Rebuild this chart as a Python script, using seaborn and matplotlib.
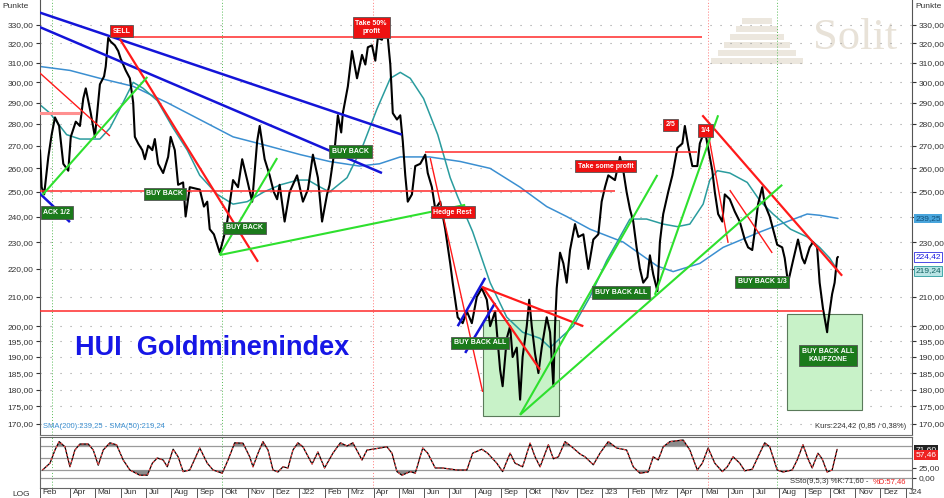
import matplotlib
matplotlib.use("Agg")
import matplotlib.pyplot as plt
import matplotlib.dates as mdates
import matplotlib.transforms as mtransforms
from matplotlib.patches import Rectangle
from matplotlib.ticker import FixedLocator, FuncFormatter, NullLocator
import numpy as np
import pandas as pd
import seaborn as sns

# ---- HUI closes ----
price_dates = [
    "2021-02-24", "2021-02-26", "2021-03-01", "2021-03-06", "2021-03-10", "2021-03-14", "2021-03-19",
    "2021-03-24", "2021-03-30", "2021-04-02", "2021-04-08", "2021-04-13", "2021-04-17", "2021-04-20",
    "2021-04-26", "2021-05-01", "2021-05-07", "2021-05-12", "2021-05-14", "2021-05-17", "2021-05-20",
    "2021-05-25", "2021-05-29", "2021-06-01", "2021-06-07", "2021-06-12", "2021-06-16", "2021-06-18",
    "2021-06-22", "2021-06-27", "2021-06-30", "2021-07-04", "2021-07-09", "2021-07-12", "2021-07-16",
    "2021-07-22", "2021-07-28", "2021-07-31", "2021-08-05", "2021-08-09", "2021-08-15", "2021-08-18",
    "2021-08-23", "2021-09-04", "2021-09-09", "2021-09-13", "2021-09-16", "2021-09-21", "2021-09-26",
    "2021-09-28", "2021-10-03", "2021-10-07", "2021-10-14", "2021-10-20", "2021-10-25", "2021-10-31",
    "2021-11-06", "2021-11-12", "2021-11-15", "2021-11-21", "2021-11-27", "2021-12-02", "2021-12-06",
    "2021-12-09", "2021-12-15", "2021-12-21", "2021-12-30", "2022-01-06", "2022-01-12", "2022-01-18",
    "2022-01-24", "2022-01-29", "2022-02-04", "2022-02-07", "2022-02-13", "2022-02-17", "2022-02-21",
    "2022-02-23", "2022-03-01", "2022-03-06", "2022-03-12", "2022-03-18", "2022-03-22", "2022-03-25",
    "2022-03-30", "2022-04-03", "2022-04-06", "2022-04-11", "2022-04-15", "2022-04-18", "2022-04-21",
    "2022-04-24", "2022-04-29", "2022-05-03", "2022-05-06", "2022-05-09", "2022-05-12", "2022-05-17",
    "2022-05-21", "2022-05-27", "2022-06-02", "2022-06-05", "2022-06-10", "2022-06-14", "2022-06-20",
    "2022-06-26", "2022-07-02", "2022-07-05", "2022-07-11", "2022-07-17", "2022-07-22", "2022-07-28",
    "2022-08-03", "2022-08-09", "2022-08-15", "2022-08-19", "2022-08-25", "2022-08-31", "2022-09-03",
    "2022-09-08", "2022-09-12", "2022-09-15", "2022-09-20", "2022-09-24", "2022-09-27", "2022-10-02",
    "2022-10-05", "2022-10-08", "2022-10-12", "2022-10-16", "2022-10-20", "2022-10-26", "2022-10-30",
    "2022-11-03", "2022-11-05", "2022-11-07", "2022-11-11", "2022-11-15", "2022-11-19", "2022-11-23",
    "2022-11-29", "2022-12-03", "2022-12-09", "2022-12-15", "2022-12-21", "2022-12-27", "2022-12-31",
    "2023-01-04", "2023-01-08", "2023-01-16", "2023-01-22", "2023-01-26", "2023-01-30", "2023-02-03",
    "2023-02-07", "2023-02-11", "2023-02-15", "2023-02-19", "2023-02-24", "2023-02-27", "2023-03-03",
    "2023-03-08", "2023-03-11", "2023-03-15", "2023-03-21", "2023-03-26", "2023-04-01", "2023-04-07",
    "2023-04-10", "2023-04-14", "2023-04-19", "2023-04-25", "2023-04-28", "2023-05-04", "2023-05-08",
    "2023-05-13", "2023-05-16", "2023-05-20", "2023-05-25", "2023-05-28", "2023-06-03", "2023-06-09",
    "2023-06-15", "2023-06-21", "2023-06-25", "2023-06-30", "2023-07-03", "2023-07-07", "2023-07-12",
    "2023-07-15", "2023-07-21", "2023-07-25", "2023-07-30", "2023-08-05", "2023-08-08", "2023-08-12",
    "2023-08-18", "2023-08-24", "2023-08-29", "2023-09-01", "2023-09-07", "2023-09-11", "2023-09-16",
    "2023-09-19", "2023-09-23", "2023-09-28", "2023-09-29", "2023-10-04", "2023-10-07", "2023-10-10",
    "2023-10-11",
]
price_vals = [
    268, 252, 249, 265, 275, 283, 279,
    262, 259, 274, 281, 279, 292, 297,
    285, 274, 299, 303, 308, 323, 321,
    319, 316, 312, 306, 302, 290, 274,
    271, 268, 264, 270, 268, 273, 262,
    258, 265, 274, 268, 253, 254, 240,
    252, 251, 244, 246, 235, 233, 228,
    226, 232, 238, 255, 252, 264, 255,
    246, 272, 279, 264, 257, 250, 247,
    253, 238, 250, 257, 246, 251, 266,
    256, 238, 249, 253, 268, 284, 276,
    285, 298, 316, 302, 314, 309, 318,
    319, 311, 323, 322, 330, 323, 309,
    285, 282, 284, 272, 257, 246, 249,
    261, 262, 266, 258, 252, 243, 246,
    235, 222, 215, 203, 201, 205, 201,
    210, 213, 209, 200, 205, 186, 181,
    196, 200, 190, 193, 177, 190, 200,
    209, 200, 191, 185, 193, 203, 198,
    181, 200, 213, 226, 222, 215, 227,
    237, 232, 233, 220, 231, 233, 246,
    252, 257, 255, 265, 259, 250, 243,
    238, 228, 220, 215, 217, 225, 218,
    212, 230, 241, 250, 257, 269, 271,
    279, 270, 261, 261, 271, 277, 269,
    259, 250, 241, 238, 249, 247, 242,
    238, 231, 228, 227, 234, 245, 252,
    245, 240, 235, 229, 228, 224, 215,
    223, 231, 224, 222, 228, 230, 228,
    215, 206, 198, 201, 211, 215, 224,
    224.42,
]

sma200_dates = [
    "2021-02-24", "2021-04-01", "2021-05-07", "2021-06-16", "2021-07-27", "2021-09-04", "2021-10-14",
    "2021-11-24", "2022-01-03", "2022-02-07", "2022-03-15", "2022-04-08", "2022-05-03", "2022-06-07",
    "2022-07-14", "2022-08-19", "2022-09-24", "2022-10-26", "2022-11-19", "2022-12-17", "2023-01-26",
    "2023-03-08", "2023-03-27", "2023-04-28", "2023-05-26", "2023-07-10", "2023-08-03", "2023-09-04",
    "2023-09-19", "2023-10-11",
]
sma200_vals = [
    308, 306, 302, 298, 290, 282, 274,
    270, 266, 263, 261, 262, 265, 265,
    263, 260, 252, 244, 240, 235, 230,
    221, 219, 222, 228, 234, 237, 241,
    240.5, 239.25,
]

sma50_dates = [
    "2021-02-24", "2021-03-08", "2021-03-28", "2021-04-13", "2021-05-07", "2021-05-19", "2021-05-31",
    "2021-06-16", "2021-06-28", "2021-07-15", "2021-08-03", "2021-08-20", "2021-09-04", "2021-09-25",
    "2021-10-14", "2021-10-31", "2021-11-20", "2021-12-10", "2021-12-31", "2022-01-12", "2022-01-27",
    "2022-02-07", "2022-02-28", "2022-03-19", "2022-04-05", "2022-04-21", "2022-05-03", "2022-05-15",
    "2022-05-31", "2022-06-17", "2022-07-02", "2022-07-11", "2022-07-29", "2022-08-19", "2022-09-08",
    "2022-09-27", "2022-10-18", "2022-10-30", "2022-11-11", "2022-11-27", "2022-12-17", "2023-01-06",
    "2023-02-03", "2023-02-23", "2023-03-15", "2023-04-01", "2023-04-16", "2023-05-02", "2023-05-10",
    "2023-05-19", "2023-06-03", "2023-06-24", "2023-07-10", "2023-07-25", "2023-08-15", "2023-09-04",
    "2023-09-19", "2023-10-01", "2023-10-11",
]
sma50_vals = [
    289, 285, 275, 273, 273, 278, 287,
    300, 297, 291, 278, 268, 257, 249,
    245, 246, 250, 253, 255, 255, 252,
    250, 256, 270, 287, 302, 305, 302,
    292, 275, 256, 248, 234, 215, 203,
    198, 196, 193, 196, 200, 210, 223,
    239, 239, 237, 236, 237, 245, 255,
    259, 258, 254, 246, 241, 235, 232,
    228, 224, 219.24,
]

# ---- slow stochastic %K ----
stoch_dates = [
    "2021-02-27", "2021-03-08", "2021-03-14", "2021-03-19", "2021-03-26", "2021-04-01", "2021-04-07",
    "2021-04-13", "2021-04-23", "2021-04-29", "2021-05-05", "2021-05-11", "2021-05-19", "2021-05-27",
    "2021-06-04", "2021-06-12", "2021-06-24", "2021-07-03", "2021-07-09", "2021-07-15", "2021-07-22",
    "2021-07-27", "2021-08-03", "2021-08-09", "2021-08-15", "2021-08-23", "2021-09-04", "2021-09-13",
    "2021-09-20", "2021-10-01", "2021-10-08", "2021-10-16", "2021-10-26", "2021-11-03", "2021-11-07",
    "2021-11-13", "2021-11-19", "2021-11-25", "2021-12-01", "2021-12-07", "2021-12-13", "2021-12-19",
    "2021-12-25", "2021-12-31", "2022-01-06", "2022-01-17", "2022-01-24", "2022-02-01", "2022-02-11",
    "2022-02-20", "2022-02-28", "2022-03-07", "2022-03-18", "2022-03-24", "2022-03-31", "2022-04-17",
    "2022-04-23", "2022-04-29", "2022-05-05", "2022-05-15", "2022-05-21", "2022-05-30", "2022-06-05",
    "2022-06-14", "2022-06-23", "2022-07-10", "2022-07-22", "2022-07-29", "2022-08-09", "2022-08-16",
    "2022-08-27", "2022-09-03", "2022-09-12", "2022-09-18", "2022-09-27", "2022-10-06", "2022-10-12",
    "2022-10-18", "2022-10-28", "2022-11-03", "2022-11-09", "2022-11-17", "2022-11-25", "2022-12-05",
    "2022-12-11", "2022-12-21", "2022-12-29", "2023-01-08", "2023-01-18", "2023-01-30", "2023-02-07",
    "2023-02-15", "2023-02-25", "2023-03-03", "2023-03-09", "2023-03-15", "2023-03-23", "2023-04-08",
    "2023-04-16", "2023-04-25", "2023-05-01", "2023-05-08", "2023-05-16", "2023-05-25", "2023-05-31",
    "2023-06-07", "2023-06-15", "2023-06-21", "2023-06-30", "2023-07-09", "2023-07-15", "2023-07-21",
    "2023-07-30", "2023-08-06", "2023-08-17", "2023-08-23", "2023-08-30", "2023-09-05", "2023-09-10",
    "2023-09-17", "2023-09-22", "2023-09-28", "2023-10-04", "2023-10-10",
]
stoch_k = [
    20, 37, 70, 91, 78, 28, 70,
    85, 85, 70, 32, 70, 88, 83,
    45, 20, 7, 7, 37, 50, 45,
    28, 72, 53, 16, 20, 75, 37,
    20, 12, 45, 88, 87, 53, 28,
    62, 91, 70, 20, 15, 28, 25,
    70, 88, 78, 35, 65, 25, 62,
    88, 80, 88, 45, 70, 72, 78,
    62, 16, 7, 16, 12, 75, 62,
    25, 25, 20, 20, 62, 72, 62,
    37, 16, 62, 37, 28, 87, 53,
    28, 83, 48, 53, 91, 78, 60,
    53, 33, 62, 91, 75, 70, 28,
    12, 15, 53, 45, 78, 91, 95,
    70, 20, 37, 75, 37, 16, 28,
    53, 37, 18, 22, 62, 88, 78,
    20, 15, 20, 45, 83, 48, 25,
    62, 48, 15, 20, 71.6,
]

y_ticks = [170, 175, 180, 185, 190, 195, 200, 210, 220, 230, 240, 250,
           260, 270, 280, 290, 300, 310, 320, 330]
month_names = ["J", "Feb", "Mrz", "Apr", "Mai", "Jun", "Jul", "Aug", "Sep", "Okt", "Nov", "Dez"]

# trend lines: (start date, start price, end date, end price)
blue_lines = [
    ("2021-02-23", 337, "2022-05-05", 275),
    ("2021-02-23", 329, "2022-04-11", 258),
    ("2021-02-23", 249.6, "2021-04-01", 237.8),
    ("2022-07-11", 200, "2022-08-13", 216.7),
    ("2022-07-20", 191.3, "2022-08-25", 207.9),
]
red_levels = [
    ("2021-05-19", 323.5, "2023-05-01", 323.5),
    ("2021-02-23", 250.5, "2023-01-16", 250.5),
    ("2022-06-02", 267.0, "2023-04-25", 267.0),
    ("2021-02-23", 205.2, "2023-09-23", 205.2),
]
pink_levels = [("2021-02-23", 285, "2021-04-13", 285)]
red_thick = [
    ("2021-05-31", 322.4, "2021-11-13", 222.6),
    ("2022-08-09", 213.5, "2022-12-09", 200.0),
    ("2022-08-10", 213.5, "2022-10-18", 186.0),
    ("2023-05-01", 284.0, "2023-10-16", 217.5),
]
red_thin = [
    ("2021-02-23", 305, "2021-05-19", 274.4),
    ("2022-06-08", 264.5, "2022-08-10", 179.3),
    ("2023-05-08", 275.8, "2023-06-01", 229.7),
    ("2023-06-03", 250.8, "2023-07-24", 225.9),
]
green_lines = [
    ("2021-02-27", 248.8, "2021-07-03", 302.7),
    ("2021-09-28", 225.1, "2021-12-06", 264.5),
    ("2021-09-28", 225.1, "2022-07-20", 244.7),
    ("2022-09-24", 172.6, "2023-03-08", 257.2),
    ("2022-09-24", 172.6, "2023-08-05", 253.0),
    ("2023-03-05", 210.7, "2023-05-20", 284.0),
]
zones = [
    ("2022-08-10", "2022-11-10", 172.3, 202.1),
    ("2023-08-11", "2023-11-09", 174.0, 204.1),
]
red_tags = [
    ("SELL", "2021-06-02", 326.7),
    ("Take 50%\nprofit", "2022-03-29", 328.6),
    ("Hedge Rest", "2022-07-05", 241.8),
    ("Take some profit", "2023-01-05", 261.0),
    ("2/5", "2023-03-24", 279.5),
    ("1/4", "2023-05-05", 277.0),
]
green_tags = [
    ("BUY BACK", "2021-07-24", 249.2),
    ("BUY BACK", "2021-10-28", 235.5),
    ("BUY BACK", "2022-03-04", 267.4),
    ("BUY BACK ALL", "2022-08-07", 194.5),
    ("BUY BACK ALL", "2023-01-23", 211.5),
    ("BUY BACK 1/3", "2023-07-12", 215.3),
    ("BUY BACK ALL\nKAUFZONE", "2023-09-29", 190.5),
]
# tag cut off by the left border, only its end is visible
edge_tag = ("ACK 1/2", 241.6)
green_marks = ["2021-03-10", "2021-10-01", "2023-07-30"]
red_marks = ["2022-03-31", "2023-05-08"]


def dn(s):
    return mdates.date2num(pd.Timestamp(s))


def de(v):
    return f"{v:.2f}".replace(".", ",")


sns.set_style("white")
plt.rcParams["font.family"] = ["Liberation Sans", "DejaVu Sans"]

fig = plt.figure(figsize=(9.44, 4.98), dpi=100)
ax = fig.add_axes([40 / 944, 1 - 435 / 498, 872 / 944, 435 / 498])
ax2 = fig.add_axes([40 / 944, 1 - 488 / 498, 872 / 944, 51 / 498], sharex=ax)

price = pd.DataFrame({"date": pd.to_datetime(price_dates), "close": price_vals})
sma200 = pd.DataFrame({"date": pd.to_datetime(sma200_dates), "v": sma200_vals})
sma50 = pd.DataFrame({"date": pd.to_datetime(sma50_dates), "v": sma50_vals})
stoch = pd.DataFrame({"date": pd.to_datetime(stoch_dates), "k": stoch_k})

ax.set_yscale("log")

# watermark
for i, hw in enumerate([15, 21, 27, 33, 39, 46]):
    y0 = 18 + i * 8
    ax.add_patch(Rectangle(((757 - hw - 40) / 872, (435 - y0 - 6) / 435), 2 * hw / 872, 6 / 435,
                           transform=ax.transAxes, color="#ece7de", lw=0, zorder=0.5))
ax.text((813 - 40) / 872, (435 - 38) / 435, "Solit", transform=ax.transAxes, fontsize=32,
        family="Liberation Serif", color="#e8e2d8", va="center", zorder=0.5)

for d0, d1, lo, hi in zones:
    x0, x1 = dn(d0), dn(d1)
    ax.fill([x0, x1, x1, x0], [lo, lo, hi, hi], facecolor="#c8f2c8", edgecolor="#5a7a5a",
            lw=0.8, zorder=1)

for d in green_marks:
    for a in (ax, ax2):
        a.axvline(dn(d), color="#55bb55", lw=0.7, ls=(0, (1, 2)), zorder=1)
for d in red_marks:
    for a in (ax, ax2):
        a.axvline(dn(d), color="#ff7777", lw=0.7, ls=(0, (1, 2)), zorder=1)


def draw(lines, color, lw):
    for d0, p0, d1, p1 in lines:
        ax.plot([dn(d0), dn(d1)], [p0, p1], color=color, lw=lw, solid_capstyle="butt", zorder=4)


draw(pink_levels, "#ff9090", 2.2)
draw(red_levels, "#ff2a2a", 1.1)

sns.lineplot(data=sma200, x="date", y="v", ax=ax, color="#3b8fd1", lw=1.1, zorder=2)
sns.lineplot(data=sma50, x="date", y="v", ax=ax, color="#2a9c9e", lw=1.1, zorder=2)
sns.lineplot(data=price, x="date", y="close", ax=ax, color="black", lw=1.5, zorder=3)

draw(blue_lines, "#1414d8", 1.8)
draw(red_thick, "#ff1a1a", 1.6)
draw(red_thin, "#ff1a1a", 1.0)
draw(green_lines, "#2ee02e", 1.5)

box_kw = dict(fontsize=5, color="white", weight="bold", linespacing=1.15, zorder=6)


def tag(text, d, p, fc):
    ax.text(dn(d), p, text, ha="center", va="center",
            bbox=dict(boxstyle="square,pad=0.4", fc=fc, ec="#555555", lw=0.6), **box_kw)


for text, d, p in red_tags:
    tag(text, d, p, "#ee1111")
for text, d, p in green_tags:
    tag(text, d, p, "#1b7a1b")
ax.text(0.004, edge_tag[1], edge_tag[0], transform=ax.get_yaxis_transform(), ha="left",
        va="center", bbox=dict(boxstyle="square,pad=0.4", fc="#1b7a1b", ec="#555555", lw=0.6),
        **box_kw)

ax.text(0.04, 0.2, "HUI  Goldminenindex", transform=ax.transAxes, fontsize=19.5,
        weight="bold", color="#1616e6", va="center", zorder=7)

ax.set_ylim(166.9, 344)
ax.set_xlim(dn("2021-02-24"), dn("2024-01-08"))
ax.yaxis.set_major_locator(FixedLocator(y_ticks))
ax.yaxis.set_minor_locator(NullLocator())
ax.yaxis.set_major_formatter(FuncFormatter(lambda v, _: de(v)))
ax.grid(axis="y", ls=(0, (1, 8)), color="#9a9a9a", lw=0.8)
ax.grid(axis="x", visible=False)
ax.tick_params(axis="y", which="both", labelsize=6, colors="#333333", length=3,
               left=True, right=True, labelleft=True, labelright=True, pad=1.5)
ax.tick_params(axis="x", bottom=False, labelbottom=False)
ax.set_xlabel("")
ax.set_ylabel("")
for s in ("left", "right"):
    ax.spines[s].set_color("#555555")
ax.spines["top"].set_visible(False)
ax.spines["bottom"].set_color("#777777")

# the value boxes on the right cover the 240 and 220 labels
for t, v in zip(ax.yaxis.get_major_ticks(), y_ticks):
    if v in (220, 240):
        t.label2.set_visible(False)

ytr = ax.get_yaxis_transform()
ax.text(1.004, 239.25, "239,25", transform=ytr, fontsize=6, va="center", color="#10507a",
        bbox=dict(boxstyle="square,pad=0.15", fc="#49a5dc", ec="none"))
ax.text(1.004, 224.42, "224,42", transform=ytr, fontsize=6, va="center", color="#1a1ae0",
        bbox=dict(boxstyle="square,pad=0.15", fc="white", ec="#3030e0", lw=0.6))
ax.text(1.004, 219.24, "219,24", transform=ytr, fontsize=6, va="center", color="#0f5f60",
        bbox=dict(boxstyle="square,pad=0.15", fc="#b8e4e4", ec="#2a9c9e", lw=0.6))

ax.text(0.003, 0.012, "SMA(200):239,25 - SMA(50):219,24", transform=ax.transAxes,
        fontsize=5.5, color="#3b8fd1", va="bottom")
ax.text(0.993, 0.012, "Kurs:224,42 (0,85 / 0,38%)", transform=ax.transAxes,
        fontsize=5.5, color="#333333", va="bottom", ha="right")

# ---- stochastic panel ----
sns.lineplot(data=stoch, x="date", y="k", ax=ax2, color="black", lw=0.9, zorder=3)
ax2.plot(stoch["date"], stoch["k"], color="#ff4a4a", lw=0.8, ls=(0, (2, 2)), zorder=4)
kx = mdates.date2num(stoch["date"])
kv = np.array(stoch_k, dtype=float)
ax2.fill_between(kx, kv, 80, where=kv > 80, interpolate=True, color="#8c8c8c", lw=0, zorder=2)
ax2.fill_between(kx, kv, 20, where=kv < 20, interpolate=True, color="#8c8c8c", lw=0, zorder=2)
for lvl in (0, 20, 50, 80):
    ax2.axhline(lvl, color="#9a9a9a", lw=0.9, zorder=1)
ax2.set_ylim(-25, 102.5)
ax2.set_yticks([0, 25])
ax2.yaxis.set_major_formatter(FuncFormatter(lambda v, _: de(v)))
ax2.tick_params(axis="y", labelsize=6, colors="#333333", length=3, left=False,
                labelleft=False, right=True, labelright=True, pad=1.5)
ax2.set_xlabel("")
ax2.set_ylabel("")
for s in ax2.spines.values():
    s.set_color("#666666")
ytr2 = ax2.get_yaxis_transform()
ax2.text(1.004, 71.6, "71,60", transform=ytr2, fontsize=6, va="center", color="white",
         bbox=dict(boxstyle="square,pad=0.15", fc="#222222", ec="none"))
ax2.text(1.004, 57.46, "57,46", transform=ytr2, fontsize=6, va="center", color="white",
         bbox=dict(boxstyle="square,pad=0.15", fc="#ee2222", ec="none"))
d_txt = ax2.text(0.993, 0.06, "%D:57,46", transform=ax2.transAxes, fontsize=5.5,
                 color="#ee2222", ha="right", va="bottom")
ax2.annotate("SSto(9,5,3) %K:71,60 -", xy=(0, 0), xycoords=d_txt, xytext=(-3, 0),
             textcoords="offset points", fontsize=5.5, color="#333333", ha="right", va="bottom")

# month ticks
month_starts = pd.date_range("2021-04-01", "2024-01-01", freq="MS")
tick_pos = [dn("2021-02-24")] + [mdates.date2num(m) for m in month_starts]
tick_lab = ["Feb"] + [(month_names[0] + m.strftime("%y")) if m.month == 1 else month_names[m.month - 1]
                      for m in month_starts]
ax2.set_xticks(tick_pos)
ax2.set_xticklabels(tick_lab)
ax2.tick_params(axis="x", bottom=True, length=7, width=0.7, color="#555555", labelsize=6,
                labelcolor="#333333", pad=-6.5, direction="out")
shift = mtransforms.ScaledTranslation(2 / 72, 0, fig.dpi_scale_trans)
for lbl in ax2.get_xticklabels():
    lbl.set_horizontalalignment("left")
    lbl.set_transform(lbl.get_transform() + shift)
ax2.set_xlim(dn("2021-02-24"), dn("2024-01-08"))

fig.text(2 / 944, 1 - 6 / 498, "Punkte", fontsize=6, va="center", color="#333333")
fig.text(915 / 944, 1 - 6 / 498, "Punkte", fontsize=6, va="center", color="#333333")
fig.text(12 / 944, 1 - 494 / 498, "LOG", fontsize=6, va="center", color="#333333")

fig.savefig("out.png", dpi=100)
